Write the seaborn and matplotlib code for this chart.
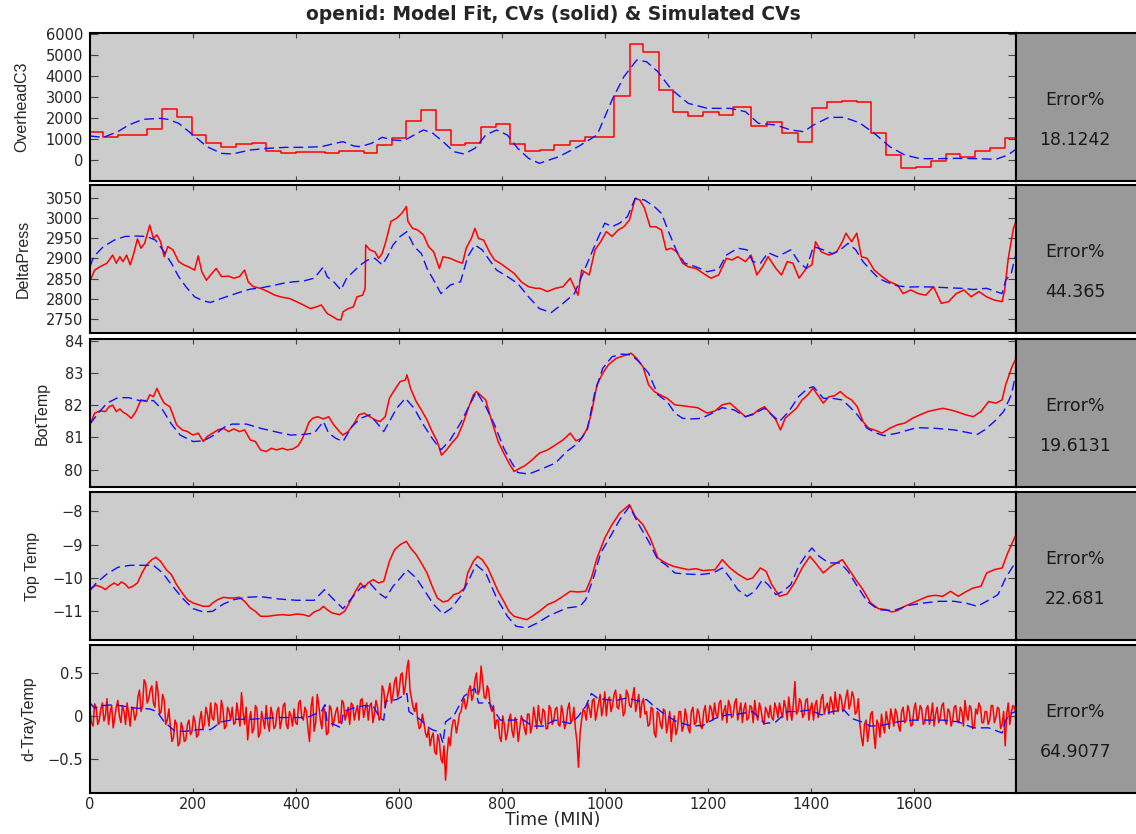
import numpy as np
import pandas as pd
import matplotlib
matplotlib.use("Agg")
import matplotlib.pyplot as plt
import seaborn as sns
from matplotlib.ticker import FuncFormatter

# ---------------- data ----------------
title = "openid: Model Fit, CVs (solid) & Simulated CVs"
xlabel = "Time (MIN)"
panel_names = ["OverheadC3", "DeltaPress", "BotTemp", "Top Temp", "d-TrayTemp"]
error_pct = [18.1242, 44.365, 19.6131, 22.681, 64.9077]
x_ticks = [0, 200, 400, 600, 800, 1000, 1200, 1400, 1600]
x_max = 1797

# Panel 1: OverheadC3 (measured CV is a staircase)
oh_red_t = [0, 25, 54, 110, 139, 168, 198, 226, 255, 284, 314, 342, 371, 399, 428, 456, 484, 532,
            557, 586, 614, 643, 672, 700, 728, 758, 787, 815, 844, 873, 901, 931, 960, 1017, 1047,
            1074, 1104, 1132, 1161, 1189, 1220, 1248, 1283, 1314, 1343, 1373, 1401, 1430, 1460,
            1489, 1516, 1545, 1573, 1602, 1632, 1661, 1688, 1718, 1747, 1775, 1797]
oh_red_v = [1333, 1095, 1206, 1476, 2428, 2047, 1190, 809, 619, 762, 809, 460, 333, 381, 390, 365,
            428, 349, 746, 1047, 1873, 2420, 1428, 714, 825, 1571, 1746, 762, 428, 508, 730, 936,
            1127, 3063, 5523, 5174, 3349, 2317, 2111, 2285, 2180, 2560, 1635, 1810, 1317, 873,
            2476, 2777, 2841, 2793, 1317, 238, -349, -333, -32, 317, 143, 444, 603, 1047, 1047]
oh_blue_t = [0, 26, 54, 75, 103, 137, 151, 172, 200, 227, 255, 276, 311, 345, 380, 414, 449, 470,
             491, 512, 525, 546, 567, 588, 609, 629, 647, 664, 685, 706, 726, 747, 768, 789, 810,
             830, 851, 872, 910, 947, 984, 1013, 1036, 1061, 1080, 1102, 1128, 1161, 1198, 1242,
             1272, 1297, 1331, 1360, 1385, 1404, 1434, 1463, 1493, 1522, 1552, 1581, 1611, 1648,
             1685, 1722, 1758, 1781, 1797]
oh_blue_v = [1158, 1095, 1365, 1682, 1952, 2000, 1952, 1762, 1206, 650, 333, 302, 492, 571, 619,
             619, 650, 777, 889, 682, 650, 809, 1095, 968, 936, 1206, 1444, 1317, 889, 413, 302,
             571, 1206, 1444, 1206, 571, 95, -143, 175, 650, 1206, 2873, 3983, 4777, 4697, 4221,
             3380, 2714, 2476, 2476, 2317, 1762, 1682, 1444, 1365, 1682, 2047, 2047, 1793, 1285,
             650, 254, 79, 79, 95, 79, 48, 254, 524]

# Panel 2: DeltaPress
dp_red_t = [2, 9, 19, 33, 44, 51, 58, 64, 71, 78, 85, 92, 99, 106, 116, 123, 130, 137, 144, 151,
            161, 172, 182, 193, 203, 210, 217, 226, 234, 245, 255, 269, 279, 290, 300, 307, 317,
            331, 345, 359, 373, 387, 401, 414, 428, 439, 449, 460, 470, 480, 487, 491, 501, 511,
            518, 529, 534, 535, 543, 553, 560, 567, 574, 584, 595, 605, 614, 617, 626, 636, 647,
            657, 667, 678, 685, 699, 713, 723, 730, 740, 747, 754, 764, 775, 785, 796, 810, 823,
            837, 851, 865, 873, 888, 903, 918, 932, 947, 954, 969, 980, 991, 1002, 1013, 1025,
            1036, 1047, 1058, 1067, 1076, 1087, 1098, 1109, 1118, 1128, 1139, 1150, 1161, 1176,
            1190, 1205, 1220, 1235, 1246, 1257, 1272, 1283, 1294, 1305, 1316, 1331, 1342, 1353,
            1364, 1376, 1390, 1401, 1408, 1419, 1434, 1449, 1460, 1467, 1478, 1488, 1497, 1508,
            1522, 1537, 1552, 1567, 1578, 1593, 1607, 1622, 1637, 1652, 1666, 1681, 1696, 1710,
            1725, 1740, 1755, 1770, 1775, 1782, 1792, 1797]
dp_red_v = [2850, 2871, 2879, 2888, 2908, 2888, 2904, 2892, 2908, 2884, 2912, 2948, 2925, 2937,
            2982, 2949, 2958, 2941, 2904, 2929, 2921, 2892, 2884, 2878, 2871, 2906, 2867, 2846,
            2859, 2875, 2855, 2856, 2851, 2855, 2871, 2842, 2830, 2826, 2818, 2809, 2804, 2801,
            2793, 2785, 2776, 2780, 2785, 2764, 2757, 2749, 2748, 2768, 2776, 2780, 2805, 2809,
            2826, 2933, 2921, 2916, 2900, 2912, 2941, 2991, 2999, 3011, 3028, 2991, 2974, 2970,
            2958, 2929, 2916, 2875, 2904, 2900, 2892, 2888, 2925, 2949, 2974, 2949, 2945, 2916,
            2896, 2888, 2875, 2863, 2842, 2830, 2826, 2826, 2818, 2826, 2830, 2851, 2809, 2871,
            2859, 2921, 2941, 2966, 2954, 2970, 2978, 2995, 3048, 3044, 3024, 2978, 2978, 2970,
            2921, 2925, 2916, 2888, 2879, 2875, 2863, 2851, 2859, 2900, 2896, 2904, 2892, 2908,
            2859, 2879, 2904, 2875, 2859, 2892, 2888, 2851, 2875, 2884, 2941, 2916, 2908, 2916,
            2941, 2962, 2941, 2962, 2904, 2900, 2871, 2855, 2842, 2834, 2813, 2822, 2813, 2809,
            2830, 2789, 2793, 2813, 2822, 2805, 2818, 2805, 2797, 2793, 2822, 2900, 2974, 2991]
dp_blue_t = [0, 7, 26, 47, 68, 89, 110, 127, 141, 158, 172, 186, 203, 220, 234, 248, 269, 290, 311,
             331, 352, 373, 394, 414, 435, 453, 460, 473, 487, 498, 511, 525, 539, 553, 567, 577,
             588, 602, 615, 629, 643, 654, 667, 681, 699, 719, 733, 747, 761, 775, 789, 810, 830,
             851, 872, 895, 918, 940, 954, 969, 984, 999, 1013, 1028, 1043, 1058, 1076, 1095, 1109,
             1124, 1139, 1154, 1176, 1198, 1220, 1235, 1257, 1275, 1286, 1301, 1316, 1334, 1360,
             1375, 1390, 1404, 1423, 1441, 1456, 1471, 1486, 1500, 1515, 1530, 1545, 1567, 1589,
             1611, 1640, 1670, 1692, 1714, 1740, 1758, 1770, 1777, 1788, 1795]
dp_blue_v = [2879, 2904, 2929, 2945, 2954, 2955, 2954, 2945, 2921, 2888, 2855, 2830, 2805, 2795,
             2791, 2798, 2807, 2816, 2824, 2827, 2832, 2838, 2842, 2844, 2851, 2879, 2855, 2842,
             2822, 2851, 2867, 2884, 2896, 2900, 2884, 2904, 2933, 2954, 2966, 2929, 2912, 2875,
             2846, 2813, 2834, 2842, 2904, 2933, 2921, 2896, 2871, 2855, 2838, 2805, 2776, 2766,
             2789, 2813, 2855, 2900, 2945, 2987, 2978, 2987, 3003, 3048, 3044, 3028, 3011, 2962,
             2916, 2888, 2879, 2867, 2873, 2908, 2925, 2921, 2892, 2888, 2914, 2904, 2921, 2892,
             2875, 2929, 2921, 2911, 2921, 2937, 2921, 2892, 2871, 2851, 2842, 2832, 2829, 2830,
             2829, 2827, 2826, 2823, 2826, 2818, 2813, 2846, 2863, 2904]

# Panel 3: BotTemp
bt_red_t = [2, 9, 19, 30, 37, 44, 51, 58, 64, 71, 80, 89, 99, 110, 116, 123, 130, 137, 144, 155,
            161, 168, 179, 189, 200, 210, 220, 227, 238, 248, 259, 269, 279, 290, 300, 311, 321,
            331, 342, 352, 362, 373, 383, 394, 404, 411, 418, 425, 432, 442, 453, 463, 473, 484,
            491, 501, 511, 522, 532, 543, 553, 563, 573, 581, 591, 602, 612, 615, 622, 633, 643,
            654, 664, 674, 682, 692, 702, 713, 723, 733, 744, 750, 761, 768, 775, 782, 792, 803,
            813, 823, 834, 844, 858, 872, 888, 903, 918, 932, 943, 954, 965, 973, 984, 995, 1006,
            1021, 1036, 1050, 1061, 1073, 1084, 1095, 1106, 1120, 1135, 1150, 1165, 1179, 1198,
            1213, 1227, 1242, 1257, 1272, 1286, 1297, 1309, 1320, 1331, 1340, 1349, 1360, 1371,
            1382, 1393, 1403, 1412, 1423, 1434, 1445, 1456, 1467, 1478, 1489, 1500, 1511, 1522,
            1537, 1552, 1567, 1581, 1596, 1611, 1626, 1640, 1655, 1670, 1685, 1699, 1714, 1729,
            1744, 1758, 1770, 1777, 1788, 1797]
bt_red_v = [81.47, 81.75, 81.82, 81.80, 81.95, 82.00, 81.80, 81.88, 81.78, 81.72, 81.59, 81.80,
            82.16, 82.11, 82.32, 82.26, 82.52, 82.26, 82.06, 81.95, 81.70, 81.39, 81.23, 81.18,
            81.07, 81.13, 80.87, 81.02, 81.13, 81.23, 81.28, 81.18, 81.26, 81.18, 81.23, 80.92,
            80.87, 80.61, 80.56, 80.66, 80.61, 80.66, 80.61, 80.64, 80.74, 80.92, 81.18, 81.47,
            81.59, 81.64, 81.57, 81.64, 81.39, 81.18, 81.07, 81.18, 81.39, 81.70, 81.75, 81.64,
            81.54, 81.49, 81.64, 82.21, 82.47, 82.73, 82.78, 82.94, 82.52, 82.11, 81.85, 81.54,
            81.18, 80.87, 80.45, 80.61, 80.82, 81.02, 81.39, 81.85, 82.32, 82.42, 82.26, 82.16,
            81.75, 81.39, 80.87, 80.51, 80.20, 79.94, 80.04, 80.12, 80.30, 80.51, 80.61, 80.76,
            80.92, 81.13, 80.89, 80.97, 81.28, 81.75, 82.63, 82.99, 83.25, 83.45, 83.53, 83.61,
            83.45, 83.19, 82.63, 82.42, 82.32, 82.21, 82.01, 81.98, 81.95, 81.92, 81.75, 81.82,
            82.01, 82.06, 81.85, 81.64, 81.70, 81.85, 81.95, 81.75, 81.54, 81.23, 81.59, 81.75,
            81.90, 82.16, 82.32, 82.52, 82.32, 82.06, 82.26, 82.29, 82.42, 82.26, 82.16, 81.95,
            81.49, 81.28, 81.23, 81.13, 81.28, 81.39, 81.44, 81.59, 81.70, 81.80, 81.85, 81.90,
            81.85, 81.78, 81.70, 81.64, 81.80, 82.11, 82.06, 82.16, 82.63, 83.14, 83.45]
bt_blue_t = [0, 16, 33, 54, 75, 96, 123, 141, 158, 175, 200, 220, 241, 262, 276, 304, 331, 366,
             390, 414, 435, 453, 463, 477, 491, 508, 525, 543, 557, 570, 581, 595, 612, 629, 647,
             664, 681, 699, 719, 737, 750, 768, 785, 803, 817, 830, 851, 872, 903, 925, 947, 965,
             980, 995, 1013, 1032, 1050, 1065, 1084, 1102, 1120, 1135, 1150, 1168, 1187, 1205,
             1227, 1250, 1272, 1290, 1309, 1323, 1338, 1356, 1375, 1393, 1404, 1423, 1441, 1460,
             1474, 1489, 1508, 1526, 1541, 1567, 1604, 1640, 1677, 1722, 1736, 1755, 1773, 1788,
             1797]
bt_blue_v = [81.41, 81.75, 82.06, 82.23, 82.23, 82.14, 82.14, 81.85, 81.41, 81.07, 80.87, 80.89,
             81.07, 81.33, 81.41, 81.41, 81.28, 81.15, 81.07, 81.09, 81.13, 81.49, 81.13, 80.97,
             80.87, 81.33, 81.59, 81.70, 81.44, 81.18, 81.49, 81.90, 82.21, 81.90, 81.39, 80.97,
             80.61, 80.92, 81.44, 82.01, 82.42, 81.95, 81.39, 80.66, 80.25, 79.91, 79.86, 79.99,
             80.20, 80.56, 80.82, 81.23, 82.42, 83.14, 83.50, 83.58, 83.56, 83.35, 82.99, 82.32,
             82.11, 81.75, 81.59, 81.57, 81.59, 81.73, 81.92, 81.85, 81.64, 81.75, 81.90, 81.70,
             81.49, 81.80, 82.26, 82.52, 82.57, 82.21, 82.21, 82.16, 81.95, 81.70, 81.28, 81.13,
             81.05, 81.13, 81.30, 81.28, 81.23, 81.09, 81.23, 81.49, 81.80, 82.32, 82.99]

# Panel 4: Top Temp
tt_red_t = [2, 12, 23, 30, 37, 47, 54, 61, 68, 75, 83, 92, 101, 110, 120, 128, 137, 148, 158, 168,
            179, 189, 200, 210, 220, 231, 238, 248, 259, 269, 279, 290, 300, 311, 321, 331, 345,
            359, 373, 387, 401, 414, 425, 435, 446, 453, 460, 470, 484, 494, 505, 515, 525, 532,
            539, 550, 560, 570, 581, 591, 602, 614, 622, 633, 643, 654, 664, 674, 685, 695, 706,
            716, 727, 733, 744, 752, 761, 772, 782, 792, 803, 813, 823, 834, 848, 858, 872, 888,
            903, 918, 932, 947, 962, 973, 984, 999, 1013, 1028, 1047, 1058, 1073, 1087, 1102,
            1117, 1132, 1146, 1161, 1176, 1190, 1213, 1227, 1242, 1257, 1275, 1286, 1301, 1312,
            1323, 1338, 1353, 1367, 1382, 1397, 1408, 1423, 1438, 1449, 1460, 1471, 1486, 1500,
            1515, 1530, 1545, 1556, 1567, 1581, 1596, 1611, 1626, 1640, 1655, 1670, 1685, 1699,
            1714, 1729, 1740, 1755, 1770, 1781, 1797]
tt_red_v = [-10.30, -10.22, -10.28, -10.35, -10.25, -10.15, -10.22, -10.12, -10.18, -10.30, -10.25,
            -10.15, -9.85, -9.60, -9.45, -9.38, -9.50, -9.75, -9.90, -10.20, -10.45, -10.65,
            -10.75, -10.80, -10.85, -10.85, -10.75, -10.65, -10.58, -10.60, -10.60, -10.58,
            -10.70, -10.90, -11.00, -11.15, -11.15, -11.12, -11.10, -11.12, -11.08, -11.10,
            -11.15, -11.02, -10.95, -10.85, -10.95, -11.05, -11.10, -11.00, -10.70, -10.40,
            -10.15, -10.30, -10.15, -10.05, -10.15, -10.10, -9.50, -9.15, -9.00, -8.90, -9.10,
            -9.30, -9.55, -9.85, -10.25, -10.60, -10.72, -10.68, -10.50, -10.45, -10.30, -9.85,
            -9.50, -9.35, -9.45, -9.70, -10.05, -10.40, -10.70, -11.00, -11.15, -11.20, -11.25,
            -11.15, -11.00, -10.80, -10.70, -10.55, -10.40, -10.42, -10.40, -10.00, -9.40, -8.80,
            -8.40, -8.05, -7.80, -8.15, -8.40, -8.80, -9.40, -9.55, -9.65, -9.70, -9.75, -9.72,
            -9.78, -9.75, -9.45, -9.70, -9.88, -10.05, -10.00, -9.70, -9.80, -10.20, -10.55,
            -10.48, -10.15, -9.70, -9.35, -9.55, -9.85, -9.65, -9.55, -9.45, -9.70, -10.05,
            -10.35, -10.75, -10.92, -10.95, -11.02, -10.98, -10.85, -10.75, -10.65, -10.55,
            -10.52, -10.55, -10.40, -10.55, -10.42, -10.30, -10.25, -9.85, -9.75, -9.70, -9.25,
            -8.70]
tt_blue_t = [0, 12, 33, 54, 78, 103, 123, 141, 158, 179, 200, 220, 238, 259, 279, 304, 331, 366,
             401, 435, 455, 470, 491, 508, 525, 543, 560, 574, 588, 605, 615, 633, 650, 667, 685,
             702, 719, 737, 749, 768, 789, 810, 827, 848, 868, 889, 903, 925, 951, 962, 977, 991,
             1010, 1028, 1047, 1065, 1084, 1102, 1117, 1135, 1154, 1183, 1209, 1227, 1242, 1257,
             1275, 1290, 1305, 1316, 1331, 1345, 1360, 1375, 1390, 1401, 1415, 1434, 1456, 1471,
             1489, 1508, 1530, 1559, 1589, 1618, 1648, 1677, 1699, 1722, 1740, 1762, 1777, 1795]
tt_blue_v = [-10.38, -10.15, -9.88, -9.68, -9.62, -9.62, -9.62, -9.85, -10.20, -10.60, -10.92,
             -11.02, -11.00, -10.78, -10.65, -10.58, -10.56, -10.63, -10.67, -10.67, -10.35,
             -10.60, -10.92, -10.60, -10.30, -10.15, -10.45, -10.60, -10.25, -9.95, -9.75, -10.00,
             -10.40, -10.80, -11.08, -10.90, -10.55, -10.00, -9.60, -9.85, -10.60, -11.15, -11.45,
             -11.50, -11.35, -11.15, -11.05, -10.90, -10.85, -10.65, -10.00, -9.25, -8.75, -8.25,
             -7.85, -8.40, -8.90, -9.45, -9.60, -9.85, -9.88, -9.90, -9.85, -9.70, -10.00, -10.35,
             -10.55, -10.40, -10.05, -10.20, -10.50, -10.40, -10.20, -9.65, -9.30, -9.10, -9.35,
             -9.55, -9.55, -9.80, -10.25, -10.70, -10.95, -10.98, -10.82, -10.75, -10.70, -10.70,
             -10.75, -10.85, -10.70, -10.50, -10.00, -9.55]

# Panel 5: d-TrayTemp (measured CV, readings every 3 minutes, split into two interleaved lists)
dt_red_t_a = list(range(0, 1800, 6))
dt_red_v_a = [0.05, -0.12, 0.10, -0.05, 0.15, 0.00, -0.10, 0.12, -0.02, 0.18,
              -0.08, 0.05, 0.15, -0.12, 0.08, 0.02, 0.30, 0.12, 0.38, 0.20,
              0.35, 0.10, 0.28, 0.05, 0.18, -0.05, -0.12, -0.25, -0.10, -0.32,
              -0.15, -0.28, -0.05, -0.18, -0.08, -0.22, 0.05, -0.10, 0.02, 0.15,
              -0.05, 0.12, -0.08, 0.08, -0.12, 0.05, 0.10, -0.08, 0.02, 0.27,
              -0.10, -0.28, 0.05, -0.15, 0.08, -0.20, -0.05, 0.12, -0.18, 0.02,
              -0.12, 0.10, -0.05, 0.15, -0.15, 0.00, 0.08, -0.10, 0.18, -0.05,
              0.05, -0.30, 0.22, -0.08, 0.12, -0.15, 0.05, -0.20, 0.08, -0.05,
              0.10, -0.08, 0.15, 0.02, -0.10, 0.12, 0.05, -0.05, 0.20, 0.08,
              -0.05, 0.15, 0.02, 0.10, -0.02, 0.30, 0.20, 0.38, 0.25, 0.45,
              0.30, 0.50, 0.35, 0.65, 0.20, 0.05, -0.05, -0.12, -0.08, -0.25,
              -0.35, -0.20, -0.45, -0.30, -0.55, -0.75, -0.25, -0.15, -0.05, -0.10,
              0.05, 0.20, 0.15, 0.35, 0.25, 0.50, 0.30, 0.40, 0.20, 0.28,
              0.05, -0.15, -0.05, -0.30, -0.10, -0.20, 0.02, -0.25, -0.08, -0.15,
              -0.05, -0.22, 0.02, -0.12, -0.02, 0.12, -0.10, 0.05, -0.15, 0.08,
              -0.05, 0.10, -0.12, 0.02, -0.08, 0.15, -0.05, -0.15, -0.60, -0.05,
              0.05, 0.15, -0.02, 0.20, 0.05, 0.25, 0.10, 0.00, 0.22, 0.12,
              0.30, 0.08, 0.18, 0.05, 0.25, 0.10, 0.33, 0.15, -0.02, 0.20,
              0.05, -0.10, 0.08, -0.25, 0.02, -0.15, 0.05, -0.08, -0.30, 0.00,
              -0.15, 0.05, -0.12, -0.02, -0.20, 0.10, -0.08, 0.02, -0.15, 0.12,
              -0.05, 0.08, 0.15, -0.02, 0.18, 0.05, -0.08, 0.12, 0.00, 0.20,
              0.05, -0.08, 0.15, -0.02, 0.10, 0.18, -0.05, 0.08, -0.10, 0.05,
              0.12, -0.05, 0.08, 0.15, -0.02, 0.10, 0.22, -0.05, 0.40, 0.05,
              0.15, 0.02, 0.20, 0.08, -0.05, 0.18, 0.05, 0.25, 0.10, 0.02,
              0.15, 0.28, 0.05, 0.20, 0.10, 0.30, 0.15, 0.22, 0.05, -0.10,
              -0.35, -0.05, -0.15, 0.05, -0.38, -0.10, 0.02, -0.20, -0.05, 0.08,
              -0.12, 0.02, -0.18, 0.10, -0.05, 0.05, -0.10, 0.15, -0.02, 0.08,
              -0.08, 0.12, 0.00, -0.12, 0.10, -0.02, 0.15, -0.10, 0.05, -0.05,
              0.12, -0.08, 0.05, 0.18, -0.05, 0.08, -0.12, 0.02, 0.10, -0.08,
              0.05, -0.05, 0.12, -0.02, 0.08, -0.10, -0.35, 0.15, 0.05, 0.10]
dt_red_t_b = list(range(3, 1800, 6))
dt_red_v_b = [-0.08, 0.14, -0.10, 0.08, -0.06, 0.20, 0.04, -0.14, 0.10, 0.00,
              0.12, -0.10, 0.02, 0.10, -0.05, 0.22, 0.05, 0.42, 0.15, 0.30,
              0.15, 0.40, 0.02, 0.25, -0.10, 0.08, -0.30, -0.05, -0.35, -0.08,
              -0.30, -0.10, -0.22, 0.00, -0.25, -0.05, -0.15, 0.10, -0.12, -0.02,
              0.15, -0.10, 0.18, -0.15, 0.10, -0.05, -0.10, 0.15, -0.12, 0.05,
              0.10, -0.05, -0.20, 0.12, -0.25, 0.05, -0.15, -0.08, 0.10, -0.15,
              0.05, -0.15, 0.12, -0.10, 0.05, -0.12, -0.08, 0.15, -0.02, 0.10,
              -0.15, 0.10, -0.18, 0.25, -0.05, 0.10, -0.22, 0.12, -0.12, 0.05,
              -0.08, 0.18, -0.05, 0.10, 0.15, -0.05, 0.12, 0.18, -0.02, 0.15,
              0.12, -0.08, 0.18, -0.05, 0.35, 0.10, 0.28, 0.15, 0.40, 0.22,
              0.48, 0.25, 0.55, 0.30, 0.10, 0.15, -0.15, 0.02, -0.20, -0.15,
              -0.25, -0.42, -0.22, -0.50, -0.35, -0.45, -0.35, -0.05, -0.20, 0.02,
              0.15, 0.08, 0.30, 0.18, 0.42, 0.25, 0.58, 0.22, 0.35, 0.10,
              0.12, -0.05, -0.25, 0.00, -0.28, -0.05, -0.18, -0.02, -0.30, 0.00,
              -0.15, 0.02, -0.20, 0.10, -0.15, -0.05, 0.08, -0.15, 0.12, -0.10,
              0.08, -0.10, 0.12, -0.15, 0.08, -0.08, 0.10, -0.30, -0.20, 0.08,
              -0.05, 0.08, 0.18, -0.05, 0.15, 0.00, 0.28, 0.18, 0.05, 0.25,
              0.10, 0.25, 0.00, 0.30, 0.12, 0.22, 0.05, 0.25, 0.15, 0.02,
              -0.12, 0.10, -0.20, 0.05, -0.10, 0.08, -0.20, 0.05, -0.10, -0.22,
              0.05, -0.18, 0.08, -0.15, 0.05, -0.10, 0.08, -0.12, 0.05, -0.08,
              0.12, -0.05, 0.02, 0.15, -0.05, 0.12, 0.18, -0.02, 0.15, -0.05,
              0.15, 0.08, -0.05, 0.12, -0.08, 0.02, 0.15, -0.05, 0.10, -0.02,
              -0.02, 0.15, -0.02, 0.05, 0.18, -0.05, 0.05, 0.15, 0.02, 0.20,
              -0.02, 0.18, -0.05, 0.15, 0.12, -0.02, 0.20, 0.02, 0.15, 0.22,
              0.02, 0.12, 0.25, 0.05, 0.22, 0.08, 0.28, 0.02, 0.20, -0.25,
              -0.10, -0.30, 0.02, -0.20, -0.05, -0.25, -0.12, 0.05, -0.15, -0.02,
              0.08, -0.12, 0.05, -0.08, 0.12, -0.12, 0.08, -0.05, 0.12, -0.10,
              0.08, -0.10, 0.15, 0.02, -0.08, 0.12, -0.05, 0.08, -0.12, 0.10,
              -0.05, 0.10, -0.12, 0.02, 0.12, -0.15, 0.08, 0.15, -0.08, 0.05,
              -0.10, 0.12, -0.08, 0.10, -0.15, 0.05, 0.02, -0.10, 0.12, 0.02]
dt_blue_t = [0, 9, 26, 47, 68, 89, 116, 130, 144, 165, 186, 213, 234, 255, 283, 311, 338, 366, 394,
             421, 449, 456, 460, 477, 487, 492, 511, 532, 550, 563, 570, 574, 595, 615, 619, 642,
             658, 667, 678, 685, 690, 706, 726, 747, 754, 775, 796, 823, 837, 858, 879, 903, 932,
             947, 962, 973, 984, 999, 1021, 1043, 1065, 1080, 1095, 1117, 1139, 1168, 1190, 1213,
             1235, 1257, 1286, 1309, 1331, 1353, 1375, 1397, 1419, 1441, 1463, 1478, 1497, 1515,
             1537, 1567, 1596, 1626, 1655, 1685, 1714, 1744, 1770, 1777, 1788, 1797]
dt_blue_v = [0.15, 0.09, 0.12, 0.13, 0.11, 0.09, 0.08, 0.05, -0.07, -0.18, -0.18, -0.16, -0.16,
             -0.07, -0.04, -0.04, -0.03, -0.02, -0.02, -0.02, 0.05, 0.13, -0.07, -0.11, -0.14,
             0.05, 0.09, 0.12, 0.11, -0.03, -0.05, 0.17, 0.19, 0.26, 0.05, -0.05, -0.14, -0.17,
             -0.18, -0.32, -0.07, 0.00, 0.23, 0.32, 0.15, 0.15, -0.05, -0.05, -0.03, -0.12, -0.12,
             -0.05, -0.09, -0.01, 0.11, 0.26, 0.21, 0.19, 0.18, 0.21, 0.17, 0.19, 0.11, 0.01,
             -0.07, -0.12, -0.11, -0.03, 0.01, 0.02, 0.05, -0.09, -0.07, 0.05, 0.05, 0.07, 0.01,
             0.05, 0.07, -0.03, -0.07, -0.12, -0.11, -0.07, -0.05, -0.05, -0.05, -0.07, -0.14,
             -0.14, -0.20, -0.05, 0.03, 0.05]

y_ticks = [[0, 1000, 2000, 3000, 4000, 5000, 6000],
           [2750, 2800, 2850, 2900, 2950, 3000, 3050],
           [80, 81, 82, 83, 84],
           [-11, -10, -9, -8],
           [-0.5, 0, 0.5]]

# ---------------- layout & style ----------------
W, H = 1136, 834
y_limits = [(-970, 6050), (2715, 3081), (79.45, 84.05), (-11.87, -7.42), (-0.904, 0.83)]
tops_px = [33.3, 185.0, 339.0, 492.0, 644.7]
bots_px = [180.7, 333.3, 487.3, 640.3, 793.3]
label_x = [-0.0655, -0.0640, -0.0432, -0.0540, -0.0583]
left_px, right_px = 90, 1016

sns.set_style("ticks")
plt.rcParams['font.family'] = ['DejaVu Sans']
plt.rcParams['axes.unicode_minus'] = True

fig = plt.figure(figsize=(W / 100, H / 100), dpi=100)
fig.patch.set_facecolor('white')

dt_red = pd.concat([pd.DataFrame({"t": dt_red_t_a, "v": dt_red_v_a}),
                    pd.DataFrame({"t": dt_red_t_b, "v": dt_red_v_b})]).sort_values("t")

series = [
    (pd.DataFrame({"t": oh_red_t, "v": oh_red_v}), pd.DataFrame({"t": oh_blue_t, "v": oh_blue_v})),
    (pd.DataFrame({"t": dp_red_t, "v": dp_red_v}), pd.DataFrame({"t": dp_blue_t, "v": dp_blue_v})),
    (pd.DataFrame({"t": bt_red_t, "v": bt_red_v}), pd.DataFrame({"t": bt_blue_t, "v": bt_blue_v})),
    (pd.DataFrame({"t": tt_red_t, "v": tt_red_v}), pd.DataFrame({"t": tt_blue_t, "v": tt_blue_v})),
    (dt_red, pd.DataFrame({"t": dt_blue_t, "v": dt_blue_v})),
]

minus_fmt = FuncFormatter(lambda v, p: f"{v:g}".replace("-", "\u2212"))

for i, (red_df, blue_df) in enumerate(series):
    top, bot = tops_px[i], bots_px[i]
    ax = fig.add_axes([left_px / W, 1 - bot / H, (right_px - left_px) / W, (bot - top) / H])
    ax.set_facecolor('#cccccc')
    kw = dict(drawstyle='steps-post') if i == 0 else {}
    sns.lineplot(data=red_df, x="t", y="v", ax=ax, color='#ff0000', lw=1.1, **kw)
    sns.lineplot(data=blue_df, x="t", y="v", ax=ax, color='#1010ff', lw=1.0,
                 linestyle=(0, (7, 3.5)))
    ax.set_xlim(0, x_max)
    ax.set_ylim(*y_limits[i])
    ax.set_xticks(x_ticks)
    ax.set_yticks(y_ticks[i])
    ax.yaxis.set_major_formatter(minus_fmt)
    ax.tick_params(axis='x', direction='in', top=True, bottom=True, length=3.5, width=0.8,
                   color='#444444', labelsize=10.5, pad=3)
    ax.tick_params(axis='y', direction='in', left=True, right=True, length=6, width=0.8,
                   color='#444444', labelsize=10.5, pad=5)
    if i < 4:
        ax.tick_params(axis='x', labelbottom=False)
        ax.set_xlabel('')
    else:
        ax.set_xlabel(xlabel, fontsize=12.5, labelpad=-1)
    ax.set_ylabel(panel_names[i], fontsize=11.5,
                  fontfamily=['Liberation Sans Narrow', 'Liberation Sans', 'DejaVu Sans'])
    ax.yaxis.set_label_coords(label_x[i], 0.5)
    for s in ax.spines.values():
        s.set_linewidth(1.5)
        s.set_color('black')

    rax = fig.add_axes([right_px / W, 1 - bot / H, (W - right_px) / W + 0.01, (bot - top) / H])
    rax.set_facecolor('#999999')
    rax.set_xticks([])
    rax.set_yticks([])
    for s in rax.spines.values():
        s.set_linewidth(1.5)
        s.set_color('black')
    rax.spines['right'].set_visible(False)
    rax.text(0.45, 0.55, "Error%", transform=rax.transAxes, ha='center', va='center',
             fontsize=12.5, color='#1a1a1a')
    rax.text(0.45, 0.277, f"{error_pct[i]:g}", transform=rax.transAxes, ha='center',
             va='center', fontsize=12.5, color='#1a1a1a')

fig.text(553 / W, 1 - 15 / H, title, ha='center', va='center', fontsize=13.5, fontweight='bold')

fig.savefig("out.png", dpi=100)
